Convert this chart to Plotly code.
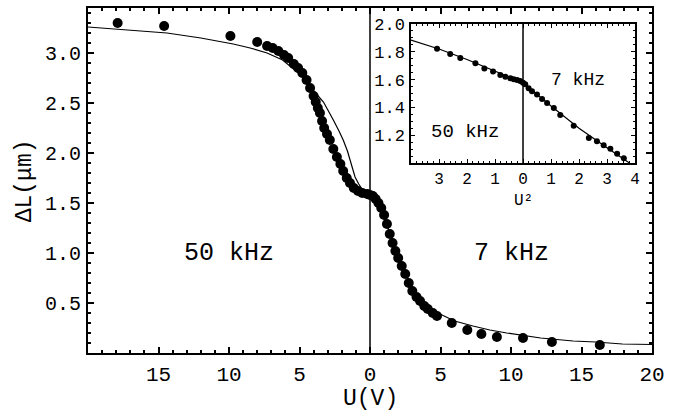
import plotly.graph_objects as go

# ---------------- main panel data ----------------
# 50 kHz branch (plotted on the negative side, labelled by |U|)
u50_dots = [-17.9, -14.6, -9.9, -8.0, -7.3, -6.9, -6.5, -6.1, -5.8, -5.4, -5.1, -4.8,
            -4.5, -4.25, -4.0, -3.85, -3.7, -3.55, -3.4, -3.25, -3.05, -2.85, -2.6,
            -2.35, -2.1, -1.9, -1.65, -1.42, -1.15, -0.85, -0.55, -0.2, 0.0]
dl50_dots = [3.30, 3.27, 3.17, 3.11, 3.07, 3.05, 3.02, 2.98, 2.95, 2.89, 2.85, 2.80,
             2.73, 2.65, 2.57, 2.51, 2.45, 2.40, 2.32, 2.25, 2.19, 2.13, 2.04,
             1.96, 1.89, 1.82, 1.75, 1.70, 1.65, 1.62, 1.60, 1.59, 1.58]

# 7 kHz branch
u7_dots = [0.2, 0.4, 0.6, 0.8, 1.0, 1.2, 1.4, 1.6, 1.8, 2.0, 2.25, 2.5, 2.75, 3.0,
           3.3, 3.55, 3.85, 4.1, 4.45, 4.75, 5.8, 6.9, 7.9, 9.0, 10.85, 12.9, 16.3]
dl7_dots = [1.57, 1.54, 1.50, 1.45, 1.38, 1.29, 1.19, 1.10, 1.02, 0.95, 0.87, 0.79,
            0.70, 0.62, 0.56, 0.52, 0.47, 0.44, 0.40, 0.37, 0.30, 0.23, 0.19, 0.16,
            0.15, 0.11, 0.08]

# theory curve
u_fit = [-20, -17, -14.4, -12, -9.7, -8.5, -7.3, -6.2, -5.5, -4.9, -4.5, -3.8, -3.3,
         -3.05, -2.6, -2.2, -1.9, -1.6, -1.42, -1.2, -1.06, -0.8, -0.57, -0.3, 0.0,
         0.3, 0.6, 1.0, 1.4, 1.8, 2.2, 2.6, 3.0, 3.5, 4.0, 4.96, 6.0, 7.3, 8.5, 9.7,
         12.1, 14.4, 16.0, 17.9, 20]
dl_fit = [3.26, 3.23, 3.20, 3.15, 3.09, 3.05, 3.00, 2.93, 2.85, 2.78, 2.72, 2.59, 2.51,
          2.45, 2.33, 2.22, 2.13, 2.02, 1.94, 1.83, 1.76, 1.69, 1.64, 1.60, 1.58,
          1.55, 1.49, 1.37, 1.20, 1.03, 0.89, 0.76, 0.64, 0.54, 0.46, 0.39, 0.32,
          0.27, 0.23, 0.20, 0.15, 0.12, 0.11, 0.09, 0.085]

x_tickvals = [-15, -10, -5, 0, 5, 10, 15, 20]
x_ticktext = ["15", "10", "5", "0", "5", "10", "15", "20"]
y_tickvals = [0.5, 1.0, 1.5, 2.0, 2.5, 3.0]
y_ticktext = ["0.5", "1.0", "1.5", "2.0", "2.5", "3.0"]

# ---------------- inset data (vs U^2) ----------------
u2_pts = [-3.07, -2.60, -2.24, -1.70, -1.38, -1.07, -0.81, -0.63, -0.45, -0.33, -0.21,
          -0.10, 0.0, 0.08, 0.20, 0.32, 0.50, 0.68, 0.86, 1.10, 1.33, 1.81, 2.35,
          2.64, 2.88, 3.12, 3.36, 3.60]
dl_in_pts = [1.822, 1.785, 1.756, 1.717, 1.680, 1.659, 1.634, 1.620, 1.610, 1.602,
             1.598, 1.590, 1.578, 1.566, 1.537, 1.517, 1.493, 1.461, 1.432, 1.395,
             1.346, 1.268, 1.180, 1.156, 1.127, 1.102, 1.066, 1.034]
u2_fit = [-4, -3, -2, -1, 0, 1, 2, 3, 3.8]
dl_in_fit = [1.885, 1.82, 1.745, 1.66, 1.578, 1.41, 1.25, 1.11, 1.0]

ix_tickvals = [-3, -2, -1, 0, 1, 2, 3, 4]
ix_ticktext = ["3", "2", "1", "0", "1", "2", "3", "4"]
iy_tickvals = [1.2, 1.4, 1.6, 1.8, 2.0]
iy_ticktext = ["1.2", "1.4", "1.6", "1.8", "2.0"]

FONT = "Liberation Mono, Courier New, monospace"

fig = go.Figure()
fig.add_trace(go.Scatter(x=u_fit, y=dl_fit, mode="lines",
                         line=dict(color="black", width=1.2), showlegend=False))
fig.add_trace(go.Scatter(x=u50_dots, y=dl50_dots, mode="markers",
                         marker=dict(color="black", size=10), showlegend=False))
fig.add_trace(go.Scatter(x=u7_dots, y=dl7_dots, mode="markers",
                         marker=dict(color="black", size=10), showlegend=False))

fig.add_trace(go.Scatter(x=u2_fit, y=dl_in_fit, mode="lines", xaxis="x2", yaxis="y2",
                         line=dict(color="black", width=1.2), showlegend=False))
fig.add_trace(go.Scatter(x=u2_pts, y=dl_in_pts, mode="markers", xaxis="x2", yaxis="y2",
                         marker=dict(color="black", size=6), showlegend=False))

fig.add_shape(type="line", xref="x", yref="y domain", x0=0, x1=0, y0=0, y1=1,
              line=dict(color="black", width=1.5))
fig.add_shape(type="line", xref="x2", yref="y2 domain", x0=0, x1=0, y0=0, y1=1,
              line=dict(color="black", width=1.5))

axis_common = dict(showline=True, linecolor="black", mirror="ticks", ticks="inside",
                   tickcolor="black", showgrid=False, zeroline=False, automargin=False)

fig.update_layout(
    template="none",
    width=689, height=416,
    margin=dict(l=88, r=37, t=8, b=63),
    paper_bgcolor="white", plot_bgcolor="white",
    font=dict(family=FONT, color="black"),
    xaxis=dict(domain=[0, 1], range=[-20, 20], tickvals=x_tickvals, ticktext=x_ticktext,
               linewidth=2, ticklen=6, tickwidth=1.5,
               minor=dict(ticks="inside", dtick=1, ticklen=3, tickcolor="black"),
               tickfont=dict(size=21, family=FONT), ticklabelstandoff=1, **axis_common),
    yaxis=dict(domain=[0, 1], range=[0, 3.45], tickvals=y_tickvals, ticktext=y_ticktext,
               linewidth=2, ticklen=6, tickwidth=1.5,
               minor=dict(ticks="inside", dtick=0.1, ticklen=3, tickcolor="black"),
               tickfont=dict(size=20, family=FONT), ticklabelstandoff=1, **axis_common),
    xaxis2=dict(domain=[0.5727, 0.9699], anchor="y2", range=[-4, 4],
                tickvals=ix_tickvals, ticktext=ix_ticktext,
                linewidth=1.5, ticklen=4, tickwidth=1,
                minor=dict(ticks="inside", dtick=0.2, ticklen=2, tickcolor="black"),
                tickfont=dict(size=16, family=FONT), ticklabelstandoff=0, **axis_common),
    yaxis2=dict(domain=[0.5507, 0.9536], anchor="x2", range=[1.0, 2.0],
                tickvals=iy_tickvals, ticktext=iy_ticktext,
                linewidth=1.5, ticklen=4, tickwidth=1,
                minor=dict(ticks="inside", dtick=0.05, ticklen=2, tickcolor="black"),
                tickfont=dict(size=17, family=FONT), ticklabelstandoff=1, **axis_common),
)

ann = [
    dict(text="50 kHz", x=-10, y=1.0, xref="x", yref="y", font=dict(size=25)),
    dict(text="7 kHz", x=10, y=1.0, xref="x", yref="y", font=dict(size=25)),
    dict(text="50 kHz", x=-2.07, y=1.22, xref="x2", yref="y2", font=dict(size=19)),
    dict(text="7 kHz", x=1.98, y=1.60, xref="x2", yref="y2", font=dict(size=18)),
    dict(text="U(V)", x=0, y=-0.133, xref="x", yref="paper", font=dict(size=23)),
    dict(text="U²", x=0, y=-0.275, xref="x2", yref="y2 domain", font=dict(size=16)),
    dict(text="ΔL(μm)", x=-0.112, y=0.5, xref="paper", yref="paper", textangle=-90,
         font=dict(size=23)),
]
for a in ann:
    a.update(showarrow=False, xanchor="center", yanchor="middle")
    a["font"].update(family=FONT, color="black")
fig.update_layout(annotations=ann)

fig.write_html("out.html", config={"displayModeBar": False},
               post_script="document.body.style.margin='0';document.body.style.overflow='hidden';")
